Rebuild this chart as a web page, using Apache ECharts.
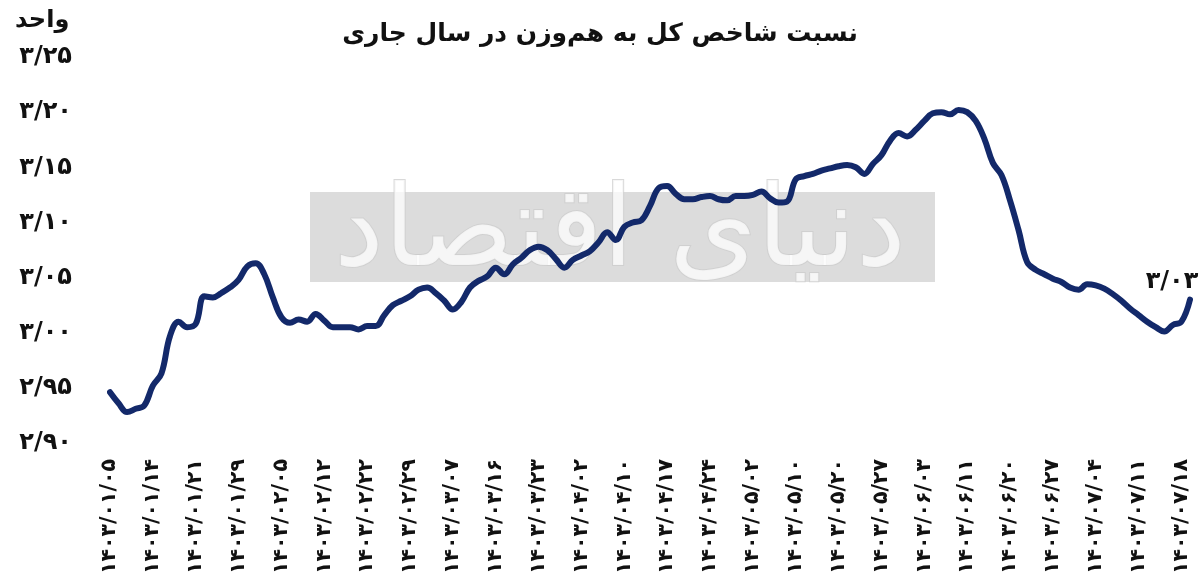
<!DOCTYPE html>
<html>
<head>
<meta charset="utf-8">
<script src="https://cdn.jsdelivr.net/npm/echarts@6/dist/echarts.min.js"></script>
<style>
html,body{margin:0;padding:0;background:#fff;}
#c{width:1200px;height:584px;}
</style>
</head>
<body>
<div id="c"></div>
<script>
// ---- data ----
var titleText = 'نسبت شاخص کل به هم‌وزن در سال جاری';
var unitText = 'واحد';
var tickLabels = ['۱۴۰۳/۰۱/۰۵','۱۴۰۳/۰۱/۱۴','۱۴۰۳/۰۱/۲۱','۱۴۰۳/۰۱/۲۹','۱۴۰۳/۰۲/۰۵','۱۴۰۳/۰۲/۱۲','۱۴۰۳/۰۲/۲۲','۱۴۰۳/۰۲/۲۹','۱۴۰۳/۰۳/۰۷','۱۴۰۳/۰۳/۱۶','۱۴۰۳/۰۳/۲۳','۱۴۰۳/۰۴/۰۲','۱۴۰۳/۰۴/۱۰','۱۴۰۳/۰۴/۱۷','۱۴۰۳/۰۴/۲۴','۱۴۰۳/۰۵/۰۲','۱۴۰۳/۰۵/۱۰','۱۴۰۳/۰۵/۲۰','۱۴۰۳/۰۵/۲۷','۱۴۰۳/۰۶/۰۳','۱۴۰۳/۰۶/۱۱','۱۴۰۳/۰۶/۲۰','۱۴۰۳/۰۶/۲۷','۱۴۰۳/۰۷/۰۴','۱۴۰۳/۰۷/۱۱','۱۴۰۳/۰۷/۱۸'];
var labelEvery = 5;
var ratio = [
2.946,2.936,2.928,2.931,2.934,2.952,2.963,2.997,3.010,3.005,
3.008,3.033,3.032,3.036,3.041,3.048,3.060,3.063,3.053,3.032,
3.014,3.009,3.012,3.010,3.017,3.011,3.005,3.005,3.005,3.003,
3.006,3.006,3.016,3.025,3.029,3.033,3.039,3.041,3.036,3.029,
3.021,3.028,3.041,3.047,3.051,3.059,3.053,3.062,3.068,3.075,
3.078,3.075,3.067,3.059,3.066,3.070,3.074,3.082,3.091,3.084,
3.096,3.100,3.102,3.115,3.131,3.133,3.126,3.121,3.121,3.123,
3.124,3.121,3.120,3.124,3.124,3.125,3.128,3.122,3.118,3.119,
3.139,3.142,3.144,3.147,3.149,3.151,3.152,3.150,3.144,3.153,
3.161,3.174,3.181,3.178,3.184,3.192,3.199,3.200,3.198,3.202,
3.200,3.192,3.176,3.154,3.143,3.120,3.093,3.064,3.057,3.053,
3.049,3.046,3.041,3.039,3.044,3.043,3.040,3.035,3.029,3.022,
3.016,3.010,3.005,3.001,3.007,3.010,3.030
];
var lastLabel = '۳/۰۳';
var yMin = 2.90, yMax = 3.25, yStep = 0.05;

// ---- helpers ----
var fa = '۰۱۲۳۴۵۶۷۸۹';
function toFa(s){ return String(s).replace(/[0-9]/g, function(d){ return fa[+d]; }); }
function fmtY(v){ return toFa(v.toFixed(2).replace('.', '/')); }

var cats = ratio.map(function(_, i){ return String(i); });
var FONT = '"DejaVu Sans", "Noto Sans", sans-serif';
var lastIdx = ratio.length - 1;

var chart = echarts.init(document.getElementById('c'), null, { renderer: 'canvas' });
chart.setOption({
  backgroundColor: '#ffffff',
  animation: false,
  title: {
    text: titleText, left: 'center', top: 17,
    textStyle: { fontFamily: FONT, fontWeight: 'bold', fontSize: 25, color: '#111' }
  },
  graphic: [
    { type: 'rect', z: 0, shape: { x: 310, y: 192, width: 625, height: 90 }, style: { fill: '#dcdcdc' } },
    { type: 'text', z: 1, x: 620, y: 236, style: { text: 'دنیای اقتصاد', fontFamily: FONT, fontSize: 112, fontWeight: 'normal',
      fill: '#ffffff', stroke: '#cccccc', lineWidth: 2, align: 'center', verticalAlign: 'middle', opacity: 0.75 } },
    { type: 'text', z: 1, left: 15, top: 9, style: { text: unitText, fontFamily: FONT, fontSize: 24, fontWeight: 'bold', fill: '#111' } }
  ],
  grid: { left: 110, right: 10, top: 57, bottom: 141, containLabel: false },
  xAxis: {
    type: 'category', data: cats, boundaryGap: false,
    axisLine: { show: false }, axisTick: { show: false }, splitLine: { show: false },
    axisLabel: {
      interval: labelEvery - 1, rotate: 90, margin: 16,
      fontFamily: FONT, fontWeight: 'bold', fontSize: 20.5, color: '#111',
      formatter: function(v, i){ return (i % labelEvery === 0) ? (tickLabels[i / labelEvery] || '') : ''; }
    }
  },
  yAxis: {
    type: 'value', min: yMin, max: yMax, interval: yStep,
    axisLine: { show: false }, axisTick: { show: false }, splitLine: { show: false },
    axisLabel: { margin: 38, fontFamily: FONT, fontWeight: 'bold', fontSize: 24, color: '#111', formatter: fmtY }
  },
  series: [{
    type: 'line', data: ratio, smooth: 0.4, symbol: 'none', z: 10,
    lineStyle: { color: '#13296a', width: 6, cap: 'round', join: 'round' },
    markPoint: {
      silent: true, symbol: 'circle', symbolSize: 0,
      data: [{ coord: [String(lastIdx), ratio[lastIdx]] }],
      label: { show: true, position: 'top', distance: 6, offset: [-18, 0], formatter: lastLabel,
        fontFamily: FONT, fontWeight: 'bold', fontSize: 24, color: '#111' }
    }
  }]
});
</script>
</body>
</html>
